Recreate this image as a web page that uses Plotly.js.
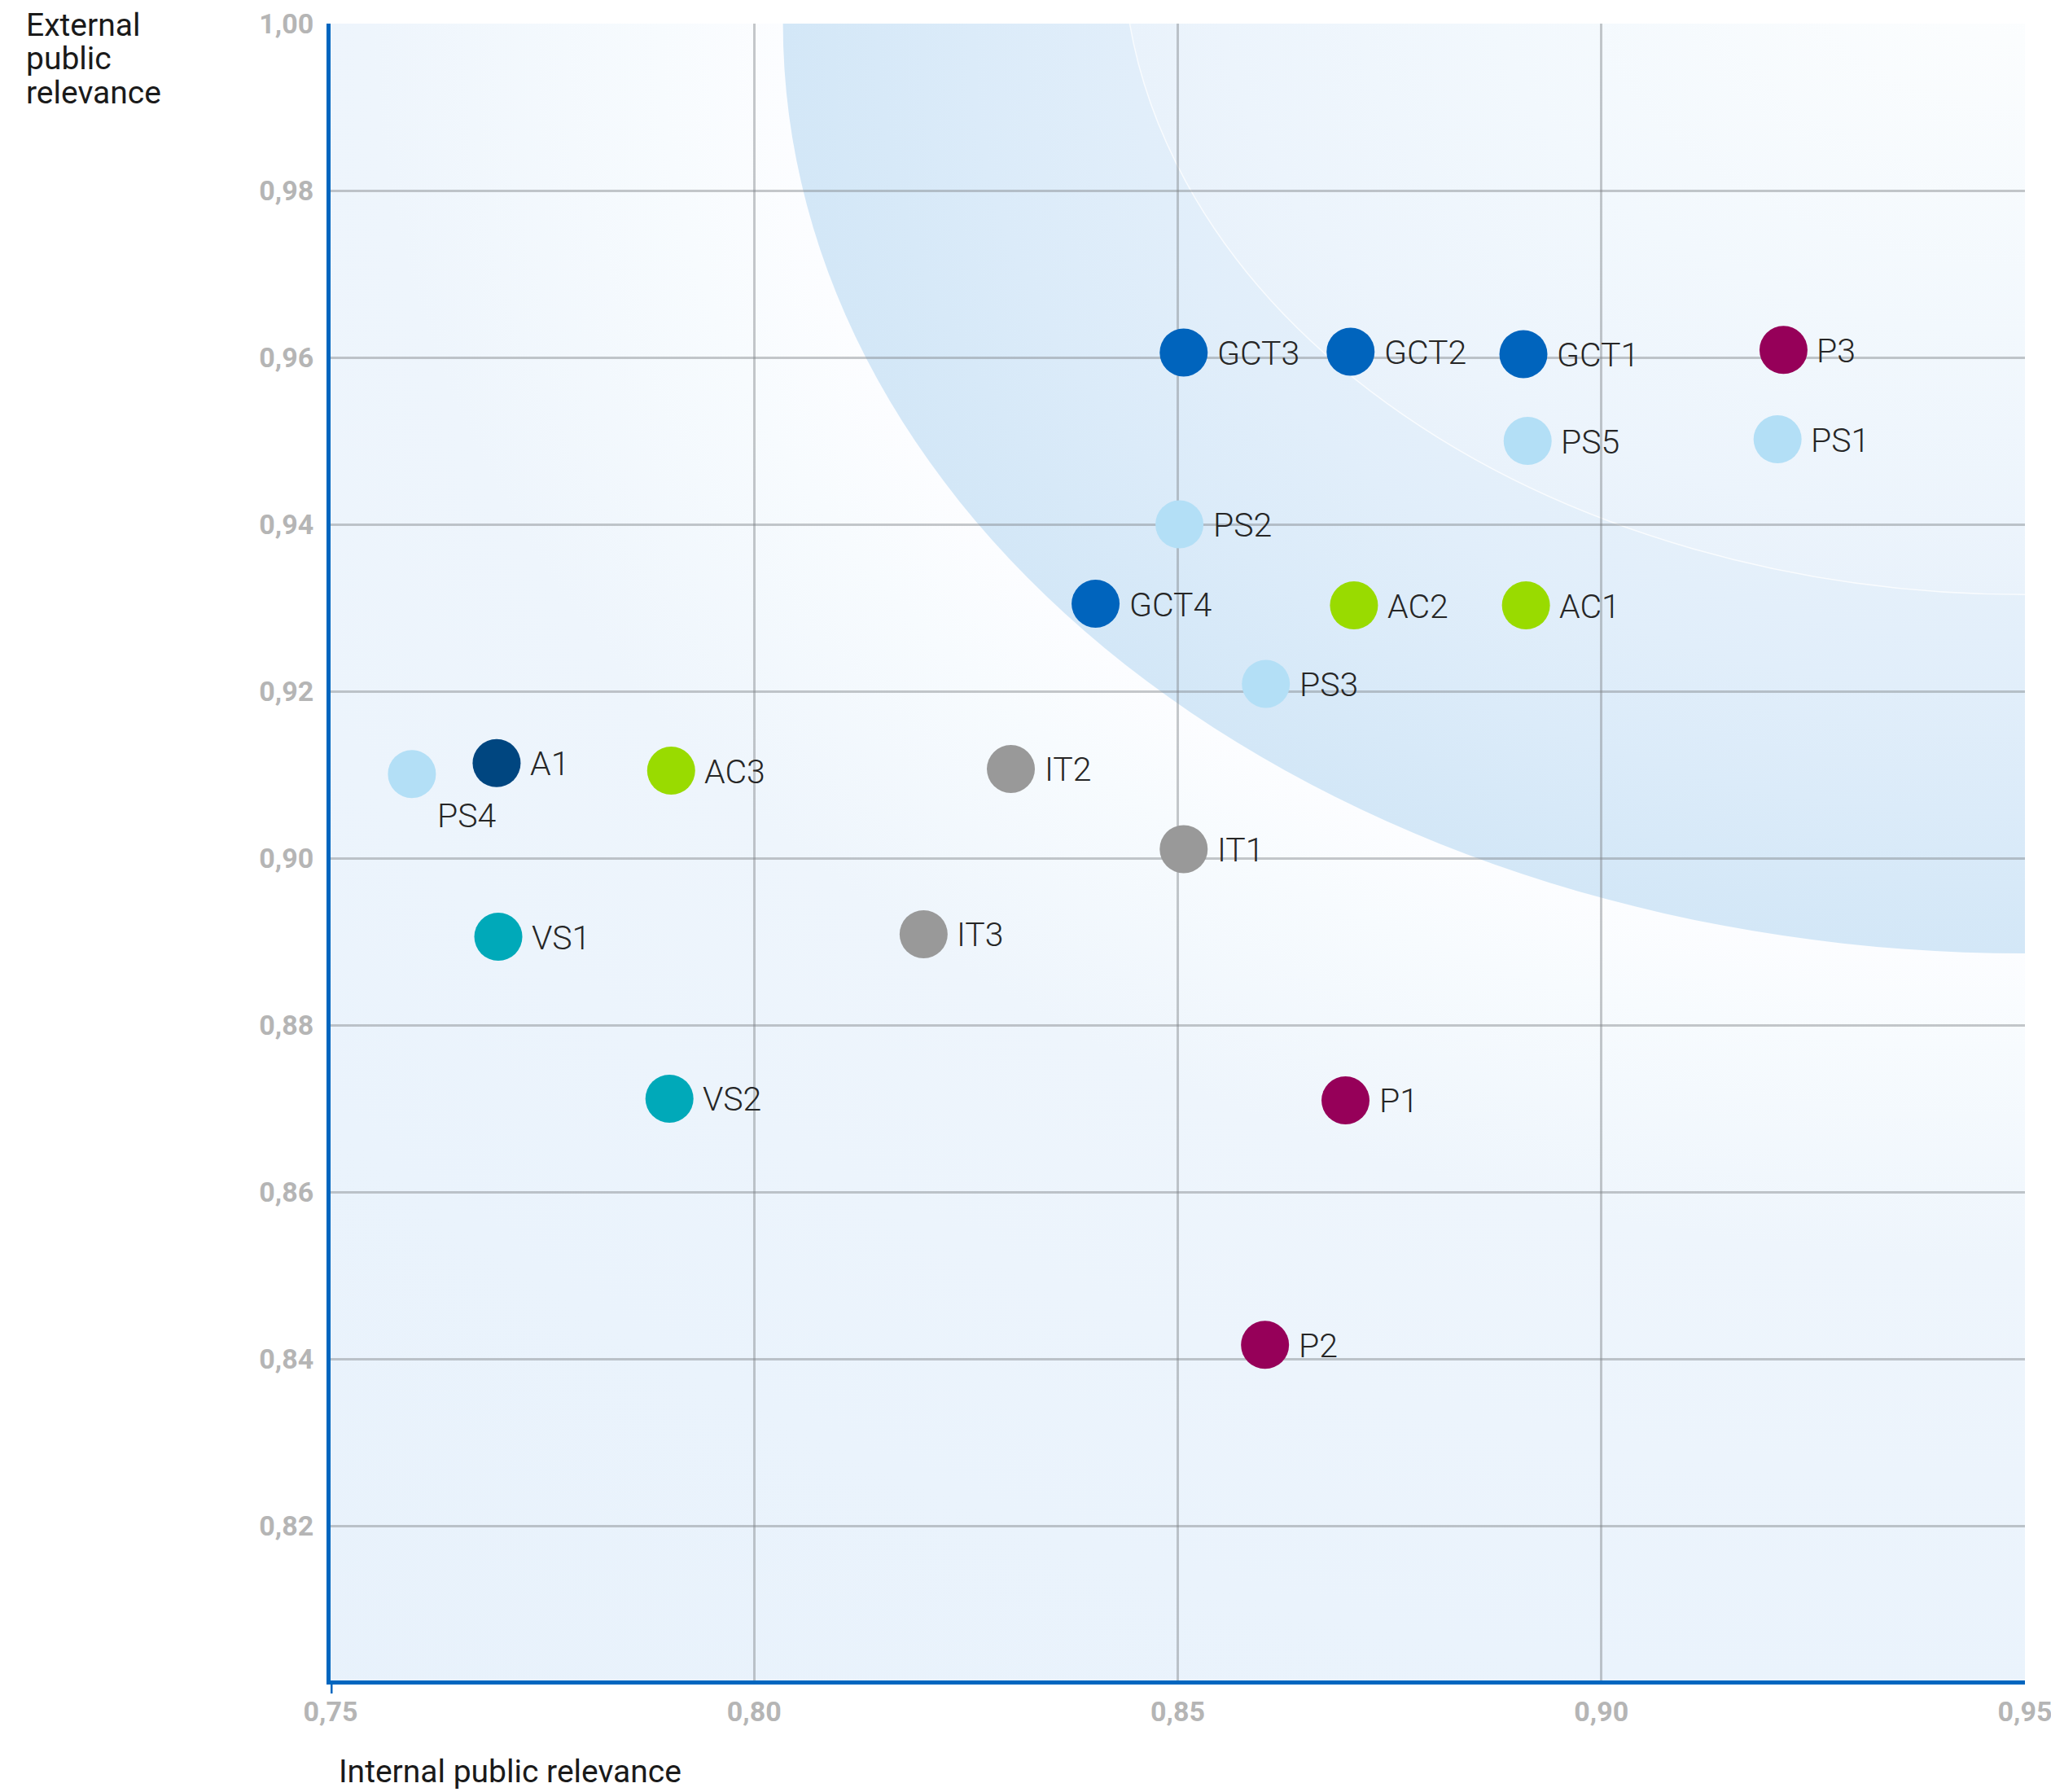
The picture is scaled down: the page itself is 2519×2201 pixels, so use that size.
<!DOCTYPE html>
<html>
<head>
<meta charset="utf-8">
<script src="https://cdn.plot.ly/plotly-3.0.1.min.js"></script>
<style>
  html, body { margin: 0; padding: 0; background: #ffffff; }
  #chart { width: 2519px; height: 2201px; }
</style>
</head>
<body>
<div id="chart"></div>
<script>
// ---- data ----------------------------------------------------------------
const labels = ['GCT1', 'GCT2', 'GCT3', 'GCT4', 'PS1', 'PS2', 'PS3', 'PS4', 'PS5',
                'AC1', 'AC2', 'AC3', 'P1', 'P2', 'P3', 'IT1', 'IT2', 'IT3', 'VS1', 'VS2', 'A1'];
const internalRelevance = [0.8908, 0.8704, 0.8507, 0.8403, 0.9208, 0.8502, 0.8604, 0.7596, 0.8913,
                           0.8911, 0.8708, 0.7902, 0.8698, 0.8603, 0.9215, 0.8507, 0.8303, 0.8200,
                           0.7698, 0.7900, 0.7696];
const externalRelevance = [0.9604, 0.9607, 0.9606, 0.9305, 0.9502, 0.9400, 0.9209, 0.9101, 0.9500,
                           0.9303, 0.9303, 0.9105, 0.8710, 0.8417, 0.9609, 0.9011, 0.9107, 0.8909,
                           0.8906, 0.8712, 0.9114];
const groups = ['GCT', 'GCT', 'GCT', 'GCT', 'PS', 'PS', 'PS', 'PS', 'PS',
                'AC', 'AC', 'AC', 'P', 'P', 'P', 'IT', 'IT', 'IT', 'VS', 'VS', 'A'];

const xTickVals = [0.75, 0.80, 0.85, 0.90, 0.95];
const xTickText = ['0,75', '0,80', '0,85', '0,90', '0,95'];
const yTickVals = [0.82, 0.84, 0.86, 0.88, 0.90, 0.92, 0.94, 0.96, 0.98, 1.00];
const yTickText = ['0,82', '0,84', '0,86', '0,88', '0,90', '0,92', '0,94', '0,96', '0,98', '1,00'];

const yTitleLines = ['External', 'public', 'relevance'];
const xTitleText = 'Internal public relevance';

// ---- styling -------------------------------------------------------------
const groupColors = {
  GCT: '#0064bd', PS: '#b3dff6', AC: '#99db00', P: '#960059',
  IT: '#999999', VS: '#00a9b9', A: '#004680'
};
const FONT = "Roboto, 'DejaVu Sans', sans-serif";
const AXIS_BLUE = '#0066bf';
const GRID = 'rgba(128,132,138,0.45)';

const W = 2519, H = 2201;
const M = { l: 406, r: 32, t: 29, b: 137 };
const PW = W - M.l - M.r;
const PH = H - M.t - M.b;
const X_RANGE = [0.75, 0.95];
const Y_RANGE = [0.8015, 1.0];

// shaded zones in the top-right: ellipses in data units around the corner
const outerZone = { cx: 0.95, cy: 1.0, rx: 0.1466, ry: 0.1114 };
const innerZone = { cx: 0.95, cy: 1.0098, rx: 0.1065, ry: 0.0782 };

function buildBackground() {
  const c = document.createElement('canvas');
  c.width = PW; c.height = PH;
  const ctx = c.getContext('2d');
  const xs = PW / (X_RANGE[1] - X_RANGE[0]);
  const ys = PH / (Y_RANGE[1] - Y_RANGE[0]);
  const geo = z => ({
    ox: (z.cx - X_RANGE[0]) * xs, oy: (Y_RANGE[1] - z.cy) * ys,
    rx: z.rx * xs, ry: z.ry * ys
  });

  function elliptic(z, stops, whole) {
    const g0 = geo(z);
    ctx.save();
    ctx.translate(g0.ox, g0.oy);
    ctx.scale(g0.rx, g0.ry);
    const R = stops[stops.length - 1][0];
    const g = ctx.createRadialGradient(0, 0, 0, 0, 0, R);
    stops.forEach(s => g.addColorStop(s[0] / R, s[1]));
    ctx.fillStyle = g;
    if (whole) {
      ctx.fillRect(-g0.ox / g0.rx - 0.05, -g0.oy / g0.ry - 0.05, PW / g0.rx + 0.1, PH / g0.ry + 0.1);
    } else {
      ctx.beginPath();
      ctx.arc(0, 0, 1, 0, Math.PI * 2);
      ctx.fill();
    }
    ctx.restore();
    return g0;
  }

  // soft halo around the zones, turning pale blue towards the far corners
  elliptic(outerZone, [[0, '#fcfdff'], [1.0, '#fcfdff'], [1.1, '#f7fbfe'],
                       [1.33, '#eef5fc'], [1.8, '#eaf3fc'], [2.4, '#e7f1fb']], true);
  // outer band
  elliptic(outerZone, [[0, '#e5f0fa'], [0.6, '#e5f0fa'], [0.72, '#e1eefa'],
                       [0.85, '#dbebf9'], [1.0, '#d3e7f7']], false);
  // inner zone
  const gi = elliptic(innerZone, [[0, '#fdfeff'], [0.15, '#fbfdfe'], [0.6, '#f2f8fd'],
                                  [0.9, '#ecf4fc'], [1.0, '#e9f2fb']], false);
  ctx.beginPath();
  ctx.ellipse(gi.ox, gi.oy, gi.rx, gi.ry, 0, 0, Math.PI * 2);
  ctx.strokeStyle = 'rgba(255,255,255,0.75)';
  ctx.lineWidth = 1.5;
  ctx.stroke();
  return c.toDataURL('image/png');
}

// ---- traces --------------------------------------------------------------
const trace = {
  type: 'scatter',
  mode: 'markers',
  x: internalRelevance,
  y: externalRelevance,
  text: labels,
  hoverinfo: 'text',
  cliponaxis: false,
  marker: {
    size: 59,
    color: groups.map(g => groupColors[g]),
    line: { width: 0 },
    opacity: 1
  },
  showlegend: false
};

// point labels sit to the right of each dot; PS4 sits below-right
const labelsBelow = ['PS4'];
const pointLabels = labels.map((t, i) => {
  const below = labelsBelow.includes(t);
  return {
    x: internalRelevance[i], y: externalRelevance[i], xref: 'x', yref: 'y',
    text: t, showarrow: false, xanchor: 'left', yanchor: 'middle',
    xshift: below ? 29 : 39, yshift: below ? -51 : -1,
    font: { family: FONT, size: 41, color: '#262626', weight: 300 }
  };
});

const toPaperX = px => (px - M.l) / PW;
const toPaperY = py => (M.t + PH - py) / PH;

const titleLineCentres = [31, 72.5, 114];
const yTitle = yTitleLines.map((t, i) => ({
  xref: 'paper', yref: 'paper', x: toPaperX(30), y: toPaperY(titleLineCentres[i]),
  xanchor: 'left', yanchor: 'middle', showarrow: false, text: t,
  font: { family: FONT, size: 39, color: '#1a1a1a' }
}));
const xTitle = {
  xref: 'paper', yref: 'paper', x: toPaperX(414), y: toPaperY(2176),
  xanchor: 'left', yanchor: 'middle', showarrow: false, text: xTitleText,
  font: { family: FONT, size: 39, color: '#1a1a1a' }
};

const tickFont = { family: FONT, size: 34, color: '#b5b5b5', weight: 'bold' };

const layout = {
  width: W, height: H,
  margin: { l: M.l, r: M.r, t: M.t, b: M.b, pad: 0 },
  paper_bgcolor: '#ffffff',
  plot_bgcolor: 'rgba(0,0,0,0)',
  showlegend: false,
  hovermode: 'closest',
  xaxis: {
    range: X_RANGE, tickmode: 'array', tickvals: xTickVals, ticktext: xTickText,
    showgrid: true, gridcolor: GRID, gridwidth: 3, zeroline: false,
    showline: true, linecolor: AXIS_BLUE, linewidth: 5, ticks: '',
    tickfont: tickFont, ticklabelstandoff: 4, ticklabeloverflow: 'allow', fixedrange: true
  },
  yaxis: {
    range: Y_RANGE, tickmode: 'array', tickvals: yTickVals, ticktext: yTickText,
    showgrid: true, gridcolor: GRID, gridwidth: 3, zeroline: false,
    showline: true, linecolor: AXIS_BLUE, linewidth: 5, ticks: '',
    tickfont: tickFont, ticklabelstandoff: 9, ticklabeloverflow: 'allow', fixedrange: true
  },
  images: [{
    source: buildBackground(), xref: 'x', yref: 'y',
    x: X_RANGE[0], y: Y_RANGE[1],
    sizex: X_RANGE[1] - X_RANGE[0], sizey: Y_RANGE[1] - Y_RANGE[0],
    xanchor: 'left', yanchor: 'top', sizing: 'stretch', layer: 'below'
  }],
  shapes: [
    // top and right frame lines
    { type: 'line', xref: 'paper', yref: 'y', x0: 0, x1: 1, y0: Y_RANGE[1], y1: Y_RANGE[1],
      line: { color: GRID, width: 3 }, layer: 'below' },
    { type: 'line', xref: 'x', yref: 'paper', x0: X_RANGE[1], x1: X_RANGE[1], y0: 0, y1: 1,
      line: { color: GRID, width: 3 }, layer: 'below' },
    // small stub of the vertical axis below the origin
    { type: 'line', xref: 'x', yref: 'paper', x0: X_RANGE[0], x1: X_RANGE[0],
      y0: 0, y1: -16 / PH, line: { color: AXIS_BLUE, width: 5 }, layer: 'above' }
  ],
  annotations: pointLabels.concat(yTitle, [xTitle])
};

Plotly.newPlot('chart', [trace], layout, { displayModeBar: false, responsive: false });
</script>
</body>
</html>
